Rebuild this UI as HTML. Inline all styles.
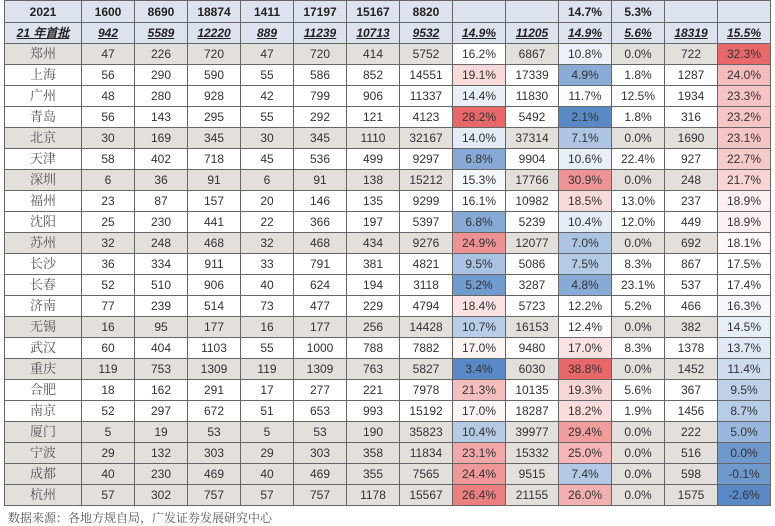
<!DOCTYPE html>
<html><head><meta charset="utf-8">
<style>
html,body{margin:0;padding:0;background:#fff;width:775px;height:526px;overflow:hidden}
table{position:absolute;left:4px;top:0;border-collapse:collapse;table-layout:fixed;font-family:"Liberation Sans",Arial,sans-serif;font-size:12px;color:#333}
td{border:1.3px solid #666;text-align:center;padding:0;height:20px;line-height:20px;overflow:hidden;white-space:nowrap}
tr.h1 td{background:#dde3ee;font-weight:bold;color:#222;height:21px}
tr.h2 td{background:#dde3ee;font-weight:bold;font-style:italic;text-decoration:underline;color:#222;height:20px}
td.c{font-family:"Liberation Serif","Noto Serif CJK SC",serif;color:#555;font-size:13px}
tr.b td{background:#e3dfdb}
.foot{position:absolute;left:8px;top:509px;font-family:"Liberation Serif","Noto Serif CJK SC",serif;font-size:12px;color:#555}
</style></head><body>
<table id="t"><colgroup><col style="width:77px"><col span="13" style="width:53px"></colgroup></table>
<div class="foot">数据来源：各地方规自局，广发证券发展研究中心</div>
<script>
var h1=["2021","1600","8690","18874","1411","17197","15167","8820","","","14.7%","5.3%","",""];
var h2=["21 年首批","942","5589","12220","889","11239","10713","9532","14.9%","11205","14.9%","5.6%","18319","15.5%"];
var d=[
["郑州",47,226,720,47,720,414,5752,"16.2%",6867,"10.8%","0.0%",722,"32.3%",1],
["上海",56,290,590,55,586,852,14551,"19.1%",17339,"4.9%","1.8%",1287,"24.0%",0],
["广州",48,280,928,42,799,906,11337,"14.4%",11830,"11.7%","12.5%",1934,"23.3%",0],
["青岛",56,143,295,55,292,121,4123,"28.2%",5492,"2.1%","1.8%",316,"23.2%",0],
["北京",30,169,345,30,345,1110,32167,"14.0%",37314,"7.1%","0.0%",1690,"23.1%",1],
["天津",58,402,718,45,536,499,9297,"6.8%",9904,"10.6%","22.4%",927,"22.7%",0],
["深圳",6,36,91,6,91,138,15212,"15.3%",17766,"30.9%","0.0%",248,"21.7%",1],
["福州",23,87,157,20,146,135,9299,"16.1%",10982,"18.5%","13.0%",237,"18.9%",0],
["沈阳",25,230,441,22,366,197,5397,"6.8%",5239,"10.4%","12.0%",449,"18.9%",0],
["苏州",32,248,468,32,468,434,9276,"24.9%",12077,"7.0%","0.0%",692,"18.1%",1],
["长沙",36,334,911,33,791,381,4821,"9.5%",5086,"7.5%","8.3%",867,"17.5%",0],
["长春",52,510,906,40,624,194,3118,"5.2%",3287,"4.8%","23.1%",537,"17.4%",0],
["济南",77,239,514,73,477,229,4794,"18.4%",5723,"12.2%","5.2%",466,"16.3%",0],
["无锡",16,95,177,16,177,256,14428,"10.7%",16153,"12.4%","0.0%",382,"14.5%",1],
["武汉",60,404,1103,55,1000,788,7882,"17.0%",9480,"17.0%","8.3%",1378,"13.7%",0],
["重庆",119,753,1309,119,1309,763,5827,"3.4%",6030,"38.8%","0.0%",1452,"11.4%",1],
["合肥",18,162,291,17,277,221,7978,"21.3%",10135,"19.3%","5.6%",367,"9.5%",0],
["南京",52,297,672,51,653,993,15192,"17.0%",18287,"18.2%","1.9%",1456,"8.7%",0],
["厦门",5,19,53,5,53,190,35823,"10.4%",39977,"29.4%","0.0%",222,"5.0%",1],
["宁波",29,132,303,29,303,358,11834,"23.1%",15332,"25.0%","0.0%",516,"0.0%",1],
["成都",40,230,469,40,469,355,7565,"24.4%",9515,"7.4%","0.0%",598,"-0.1%",1],
["杭州",57,302,757,57,757,1178,15567,"26.4%",21155,"26.0%","0.0%",1575,"-2.6%",1]];
var t=document.getElementById("t"),s="";
s+='<tr class="h1">'+h1.map(function(v){return"<td>"+v+"</td>"}).join("")+"</tr>";
s+='<tr class="h2">'+h2.map(function(v){return"<td>"+v+"</td>"}).join("")+"</tr>";
var cols=[8,10,13],sc={};
cols.forEach(function(c){var a=d.map(function(r){return parseFloat(r[c])}).sort(function(x,y){return x-y});
var n=a.length,p=(n-1)*0.5,m=a[Math.floor(p)]+(a[Math.ceil(p)]-a[Math.floor(p)])*(p-Math.floor(p));sc[c]=[a[0],m,a[n-1]];});
function col(c,v){var q=sc[c],lo=[90,138,198],hi=[232,104,106],w=[255,255,255],f,e;
if(v<=q[1]){f=(q[1]-v)/(q[1]-q[0]);e=lo}else{f=(v-q[1])/(q[2]-q[1]);e=hi}
return"rgb("+w.map(function(x,i){return Math.round(x+(e[i]-x)*f)}).join(",")+")";}
d.forEach(function(r){s+='<tr class="'+(r[14]?"b":"")+'">';
for(var i=0;i<14;i++){var st="";if(cols.indexOf(i)>=0)st=' style="background:'+col(i,parseFloat(r[i]))+'"';
s+="<td"+(i==0?' class="c"':"")+st+">"+r[i]+"</td>";}s+="</tr>";});
t.innerHTML+=s;
</script>
</body></html>
